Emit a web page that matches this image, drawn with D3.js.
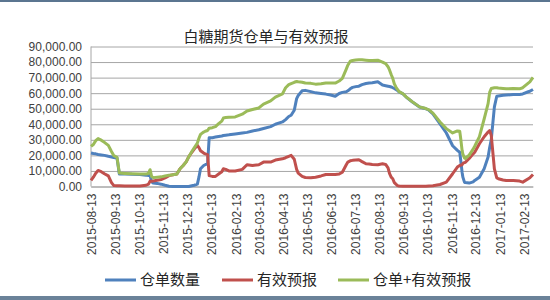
<!DOCTYPE html>
<html lang="zh">
<head>
    <meta charset="UTF-8">
    <title>白糖期货仓单与有效预报</title>
    <script src="https://cdn.jsdelivr.net/npm/d3@7/dist/d3.min.js"></script>
    <style>
        body {
            margin: 0;
            padding: 0;
            background: #ffffff;
        }
        .num {
            font-family: "Liberation Sans", Arial, sans-serif;
            fill: #404040;
        }
        .cjk {
            font-family: "Noto Sans CJK SC", sans-serif;
            fill: #262626;
        }
    </style>
</head>
<body>
<svg width="550" height="300" id="mainsvg"></svg>
<script>
    // data (roughly every 4-5 trading days)
    const dates = [
        "2015-08-13", "2015-08-16", "2015-08-19", "2015-08-22", "2015-08-26", "2015-08-30", "2015-09-04", "2015-09-08",
        "2015-09-11", "2015-09-15", "2015-09-18", "2015-09-25", "2015-10-04", "2015-10-14", "2015-10-22", "2015-10-25",
        "2015-10-27", "2015-10-29", "2015-10-31", "2015-11-05", "2015-11-10", "2015-11-15", "2015-11-20", "2015-11-25",
        "2015-11-30", "2015-12-04", "2015-12-08", "2015-12-12", "2015-12-15", "2015-12-19", "2015-12-22", "2015-12-26",
        "2015-12-28", "2015-12-30", "2016-01-03", "2016-01-05", "2016-01-08", "2016-01-10", "2016-01-14", "2016-01-18",
        "2016-01-22", "2016-01-26", "2016-01-28", "2016-01-31", "2016-02-04", "2016-02-12", "2016-02-21", "2016-02-27",
        "2016-03-05", "2016-03-13", "2016-03-19", "2016-03-28", "2016-04-03", "2016-04-12", "2016-04-16", "2016-04-20",
        "2016-04-23", "2016-04-27", "2016-04-30", "2016-05-02", "2016-05-07", "2016-05-11", "2016-05-18", "2016-05-24",
        "2016-05-31", "2016-06-06", "2016-06-12", "2016-06-18", "2016-06-23", "2016-06-27", "2016-07-02", "2016-07-04",
        "2016-07-07", "2016-07-10", "2016-07-14", "2016-07-18", "2016-07-22", "2016-07-27", "2016-07-31", "2016-08-04",
        "2016-08-11", "2016-08-17", "2016-08-21", "2016-08-24", "2016-08-26", "2016-08-28", "2016-08-30", "2016-09-01",
        "2016-09-03", "2016-09-05", "2016-09-07", "2016-09-12", "2016-09-16", "2016-09-24", "2016-10-03", "2016-10-11",
        "2016-10-15", "2016-10-20", "2016-10-29", "2016-11-06", "2016-11-14", "2016-11-20", "2016-11-23", "2016-11-24",
        "2016-11-26", "2016-11-27", "2016-11-29", "2016-11-30", "2016-12-05", "2016-12-10", "2016-12-12", "2016-12-18",
        "2016-12-24", "2016-12-29", "2016-12-31", "2017-01-02", "2017-01-06", "2017-01-09", "2017-01-11", "2017-01-17",
        "2017-01-21", "2017-01-30", "2017-02-07", "2017-02-11", "2017-02-18", "2017-02-20", "2017-02-24"
    ];
    // 仓单数量
    const receipts = [
        21500, 21200, 21000, 20600, 20300, 20000, 19400, 19000,
        18700, 18300, 8000, 8000, 7800, 7700, 7300, 7000,
        7200, 3000, 2200, 2000, 1500, 800, 200, 0,
        0, 0, 0, 0, 0, 500, 800, 1500,
        6000, 11400, 13500, 14000, 14600, 31400, 31400, 31800,
        32200, 32500, 32800, 33000, 33200, 33800, 34400, 34800,
        35700, 36500, 37300, 38500, 40000, 41500, 43000, 45000,
        45800, 49000, 56500, 58500, 61500, 61800, 61000, 60200,
        59800, 59400, 58800, 58000, 59800, 60500, 60900, 61500,
        62800, 63700, 64200, 64500, 65500, 66200, 66500, 66700,
        67300, 65200, 64800, 64500, 64300, 64000, 63500, 63000,
        62400, 61800, 60800, 59500, 57500, 54300, 51100, 50000,
        49000, 46700, 40200, 34400, 26200, 23200, 22000, 18000,
        9200, 6000, 2800, 2500, 2200, 3000, 3900, 6000,
        11400, 18900, 25000, 30000, 51200, 58000, 58200, 58700,
        58800, 59100, 59200, 59500, 60900, 61200, 62400
    ];
    // 有效预报
    const forecasts = [
        3900, 6000, 8500, 10300, 9500, 8200, 6800, 2500,
        600, 500, 500, 400, 300, 300, 800, 1500,
        3500, 3400, 3500, 4000, 4500, 5500, 7000, 7500,
        8000, 11400, 13500, 16000, 19000, 22000, 24000, 26500,
        25000, 23000, 21500, 21000, 20500, 7000, 6500, 6500,
        8000, 9500, 11400, 11000, 10000, 10000, 11000, 14000,
        13500, 14000, 15700, 15700, 17000, 17800, 18500, 19400,
        20000, 17500, 11000, 8600, 6500, 5800, 5600, 6000,
        6800, 7700, 7700, 7700, 8000, 9200, 14000, 15700,
        16500, 16800, 17000, 17200, 16000, 14600, 14500, 14200,
        14000, 14600, 14200, 12000, 8200, 6000, 5000, 2500,
        1500, 600, 300, 100, 100, 100, 100, 100,
        300, 500, 1300, 2800, 8200, 12500, 13500, 13700,
        14000, 14800, 15500, 15500, 18000, 21000, 22000, 27500,
        32000, 35000, 36000, 33000, 11400, 5500, 5000, 4200,
        3900, 3900, 3500, 2800, 5000, 5600, 7700
    ];
    // 仓单+有效预报
    const totals = [
        25800, 27000, 29500, 30800, 29800, 28400, 26400, 22500,
        19800, 18800, 8600, 8400, 8200, 8000, 8000, 8500,
        10800, 6400, 5700, 6000, 6200, 6800, 7300, 7500,
        8000, 11400, 13500, 16000, 19000, 22500, 24800, 28000,
        31000, 33500, 35000, 35500, 36000, 37500, 37800, 38500,
        40400, 42000, 44000, 44300, 44500, 44700, 46500, 48500,
        49500, 50500, 53000, 55000, 57500, 59500, 63500, 65500,
        66200, 67000, 67500, 67300, 67000, 66500, 66300, 65800,
        66000, 66500, 66500, 66500, 67800, 69500, 75500, 78000,
        80500, 81000, 81300, 81500, 81500, 81200, 81000, 81000,
        81200, 80000, 79000, 77000, 74800, 72000, 69500, 66000,
        64000, 62400, 61000, 59600, 57600, 54400, 51200, 50100,
        49300, 47200, 41500, 37200, 34400, 35700, 35500, 31800,
        23200, 20800, 18300, 18000, 20200, 24000, 25900, 32000,
        43400, 53300, 60500, 63000, 63500, 63500, 63300, 63000,
        62800, 63000, 62800, 63500, 66500, 67300, 70100
    ];
    const tickDates = [
        "2015-08-13", "2015-09-13", "2015-10-13", "2015-11-13", "2015-12-13", "2016-01-13", "2016-02-13",
        "2016-03-13", "2016-04-13", "2016-05-13", "2016-06-13", "2016-07-13", "2016-08-13", "2016-09-13",
        "2016-10-13", "2016-11-13", "2016-12-13", "2017-01-13", "2017-02-13"
    ];
    const yTicks = [0, 10000, 20000, 30000, 40000, 50000, 60000, 70000, 80000, 90000];
    const seriesNames = ["仓单数量", "有效预报", "仓单+有效预报"];
    const seriesColors = ["#4f81bd", "#c0504d", "#9bbb59"];

    const svg = d3.select("#mainsvg");
    const parse = d3.timeParse("%Y-%m-%d");
    const fmt = d3.timeFormat("%Y-%m-%d");
    const plotL = 91, plotR = 533, plotT = 46.5, plotB = 186.5;

    // chart frame lines (top / bottom edges of the picture)
    svg.append("rect").attr("x", 0).attr("y", 0).attr("width", 550).attr("height", 300).attr("fill", "#fff");
    svg.append("rect").attr("x", 0).attr("y", 0).attr("width", 550).attr("height", 2).attr("fill", "#5b7590");
    svg.append("rect").attr("x", 0).attr("y", 296).attr("width", 550).attr("height", 4).attr("fill", "#6b8299");

    const dateObjs = dates.map(parse);
    const x = d3.scaleTime()
        .domain(d3.extent(dateObjs))
        .range([plotL, plotR]);
    const y = d3.scaleLinear()
        .domain([0, 90000])
        .range([plotB, plotT]);

    // gridlines + y labels
    const yAxis = svg.append("g")
        .attr("transform", "translate(" + plotL + ",0)")
        .call(d3.axisLeft(y).tickValues(yTicks).tickSize(-(plotR - plotL)).tickPadding(9)
            .tickFormat(d3.format(",.2f")));
    yAxis.select(".domain").remove();
    yAxis.selectAll(".tick line").attr("stroke", "#a6a6a6").attr("stroke-width", 1);
    yAxis.selectAll(".tick text").attr("class", "num").attr("font-size", "12px");

    svg.append("line")
        .attr("x1", plotL).attr("x2", plotL)
        .attr("y1", plotT).attr("y2", plotB)
        .attr("stroke", "#a6a6a6");

    // x axis
    const xAxis = svg.append("g")
        .attr("transform", "translate(0," + plotB + ")")
        .call(d3.axisBottom(x).tickValues(tickDates.map(parse)).tickSize(0).tickFormat(fmt));
    xAxis.select(".domain").attr("stroke", "#a6a6a6");
    xAxis.selectAll(".tick text")
        .attr("class", "num")
        .attr("font-size", "12px")
        .attr("transform", "rotate(-90)")
        .attr("text-anchor", "end")
        .attr("x", -7)
        .attr("y", 0)
        .attr("dy", "0.35em");

    // lines
    const seriesList = [receipts, forecasts, totals];
    const line = d3.line()
        .x((d, i) => x(dateObjs[i]))
        .y(d => y(d));
    seriesList.forEach((vals, k) => {
        svg.append("path")
            .datum(vals)
            .attr("fill", "none")
            .attr("stroke", seriesColors[k])
            .attr("stroke-width", 3)
            .attr("stroke-linejoin", "round")
            .attr("d", line);
    });

    // title
    svg.append("text")
        .attr("class", "cjk")
        .attr("x", 266)
        .attr("y", 42)
        .attr("text-anchor", "middle")
        .attr("font-size", "15px")
        .text("白糖期货仓单与有效预报");

    // legend
    const legendX = [105, 222, 338];
    seriesNames.forEach((name, k) => {
        const g = svg.append("g").attr("transform", "translate(" + legendX[k] + ",280)");
        g.append("line")
            .attr("x1", 0).attr("x2", 31)
            .attr("stroke", seriesColors[k])
            .attr("stroke-width", 3);
        g.append("text")
            .attr("class", "cjk")
            .attr("x", 35)
            .attr("dy", "0.35em")
            .attr("font-size", "15px")
            .text(name);
    });
</script>
</body>
</html>
